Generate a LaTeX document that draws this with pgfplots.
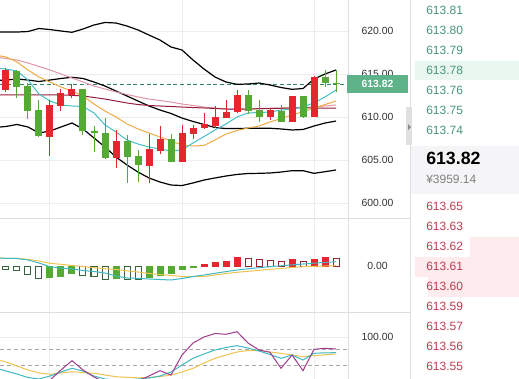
\documentclass[border=0pt]{standalone}
\usepackage{pgfplots}
\pgfplotsset{compat=1.18}
\usepackage{pgfplotstable}
\usepackage{fontspec}
\setmainfont{Liberation Sans}

\definecolor{cred}{RGB}{228,38,46}
\definecolor{cgreen}{RGB}{84,170,50}
\definecolor{hgreen}{RGB}{55,100,60}
\definecolor{hred}{RGB}{150,35,45}
\definecolor{ma5}{RGB}{70,190,200}
\definecolor{ma10}{RGB}{240,170,70}
\definecolor{ma20}{RGB}{225,150,165}
\definecolor{ma30}{RGB}{150,30,60}
\definecolor{gridc}{RGB}{236,236,238}
\definecolor{sepc}{RGB}{222,222,226}
\definecolor{labc}{RGB}{50,50,50}
\definecolor{lastc}{RGB}{94,178,138}
\definecolor{dashc}{RGB}{50,130,115}
\definecolor{askc}{RGB}{70,150,120}
\definecolor{bidc}{RGB}{190,60,80}
\definecolor{kc}{RGB}{60,185,195}
\definecolor{dc}{RGB}{240,195,80}
\definecolor{jc}{RGB}{160,60,140}
\definecolor{askbg}{RGB}{234,246,240}
\definecolor{midbg}{RGB}{245,245,247}
\definecolor{bidbg}{RGB}{253,235,238}

% candles: index, open, high, low, close
\pgfplotstableread{
i o h l c
0 613.14 615.70 612.90 615.47
4 607.70 612.00 605.50 611.40
5 611.30 613.30 610.70 612.75
6 612.60 613.80 612.20 613.30
10 605.20 608.50 604.10 607.20
13 604.30 608.00 602.30 606.30
14 606.00 608.90 605.70 607.40
16 604.80 609.10 604.75 608.10
17 608.00 609.10 607.40 608.75
18 608.70 610.50 608.60 609.20
19 609.00 611.30 608.70 610.00
20 609.90 612.00 609.85 610.60
21 610.60 613.10 610.50 612.60
24 610.00 611.00 609.65 610.80
26 609.45 612.50 609.40 612.40
28 610.00 614.80 609.95 614.70
}\upc
\pgfplotstableread{
i o h l c
1 615.35 615.50 612.20 613.52
2 613.60 614.00 609.80 610.70
3 610.80 612.00 607.70 607.85
7 613.26 613.30 607.90 608.40
8 608.40 609.00 605.90 608.10
9 608.20 609.90 605.15 605.20
11 607.20 607.90 602.30 605.40
12 605.50 606.20 602.40 604.40
15 607.40 608.00 604.75 604.80
22 612.60 613.10 610.35 610.70
23 610.80 612.00 609.45 610.00
25 610.70 611.40 609.40 609.45
27 612.40 612.50 609.85 610.00
29 614.70 615.50 613.50 614.00
30 614.00 615.50 612.94 613.82
}\downc
% Bollinger (up, mid, lo) and moving averages
\pgfplotstableread{
i up mid lo ma5 ma10 ma20 ma30
-1 619.88 614.24 608.78 615.70 617.21 616.98 612.56
0 619.88 614.30 608.90 615.58 616.98 616.80 612.56
1 619.88 614.42 609.13 615.35 616.40 616.63 612.56
2 619.94 614.30 608.84 614.30 615.47 616.28 612.56
3 620.29 614.13 608.14 612.67 614.65 615.87 612.56
4 620.17 614.30 608.37 611.86 614.07 615.47 612.56
5 620.00 614.48 608.84 611.40 613.49 615.00 612.56
6 619.85 614.62 609.30 611.28 613.02 614.54 612.52
7 620.23 614.48 608.61 611.22 612.44 614.07 612.44
8 620.70 614.07 607.56 610.47 611.51 613.60 612.27
9 620.99 613.60 606.51 609.07 610.70 613.26 612.09
10 620.93 613.02 605.35 608.26 610.00 612.91 611.86
11 620.58 612.44 604.42 607.33 609.19 612.62 611.63
12 620.12 611.86 603.60 606.86 608.61 612.33 611.45
13 619.53 611.28 602.91 606.51 608.14 612.09 611.34
14 618.95 610.81 602.44 606.28 607.67 611.92 611.28
15 618.14 610.41 602.09 606.05 607.21 611.74 611.22
16 617.79 609.88 602.03 606.16 606.74 611.51 611.16
17 616.63 609.48 602.33 606.98 606.63 611.34 611.10
18 615.58 609.13 602.67 607.73 606.69 611.16 611.05
19 614.65 608.78 602.91 608.49 607.33 611.05 610.99
20 614.07 608.66 603.14 609.19 608.02 610.93 610.93
21 613.80 608.66 603.32 610.00 608.43 610.90 610.90
22 613.84 608.69 603.43 610.47 608.72 610.93 610.93
23 613.95 608.69 603.45 610.52 608.95 610.97 610.97
24 613.72 608.69 603.49 610.58 609.42 611.01 610.99
25 613.43 608.61 603.60 610.81 609.83 611.05 611.01
26 613.22 608.49 603.76 610.93 610.23 611.08 611.05
27 613.31 608.55 603.76 611.20 610.62 611.13 611.07
28 614.42 608.95 603.45 611.63 611.05 611.16 611.05
29 615.00 609.30 603.64 612.33 611.45 611.28 611.02
30 615.47 609.53 603.84 613.14 611.86 611.40 611.02
}\lines
% MACD lines
\pgfplotstableread{
i dif dea
-1 0.160 0.160
0 0.154 0.154
1 0.150 0.154
2 0.120 0.134
3 0.060 0.100
4 -0.014 0.054
5 -0.040 0.034
6 -0.060 0.010
7 -0.090 -0.010
8 -0.110 -0.034
9 -0.140 -0.054
10 -0.200 -0.070
11 -0.240 -0.096
12 -0.246 -0.120
13 -0.260 -0.150
14 -0.270 -0.170
15 -0.280 -0.190
16 -0.250 -0.210
17 -0.210 -0.214
18 -0.180 -0.210
19 -0.146 -0.180
20 -0.112 -0.150
21 -0.080 -0.126
22 -0.056 -0.106
23 -0.034 -0.086
24 -0.014 -0.066
25 0.004 -0.048
26 0.022 -0.030
27 0.040 -0.014
28 0.056 -0.006
29 0.072 0.000
30 0.086 0.006
}\macd
% KDJ
\pgfplotstableread{
i k d j
-1 22.5 45.0 -20
0 15.0 37.5 -25
1 7.5 27.5 -25
2 -1.25 17.5 -25
3 -5.0 10.0 -20
4 2.5 6.75 -7.5
5 12.5 10.0 17.5
6 21.75 13.25 40.75
7 15.0 11.25 17.5
8 2.5 9.25 0
9 -5.0 5.0 -12.5
10 -7.5 0.75 -20
11 -7.5 -0.75 -17.5
12 -5.0 -2.0 -10
13 -2.5 -1.25 2.5
14 2.5 1.25 15.75
15 12.5 5.0 5
16 30.0 12.5 55
17 46.75 21.75 85
18 57.5 35.0 100
19 67.5 46.75 108.75
20 73.75 55.0 106.75
21 78.25 62.5 113.25
22 72.5 66.25 85
23 65.0 66.25 67.5
24 56.25 62.5 61.75
25 46.75 59.25 21.75
26 55.0 55.0 55
27 42.5 50.75 15.75
28 59.25 53.25 69.25
29 60.5 55.5 71.75
30 60.75 57.5 70
}\kdj

\pgfplotsset{
  panel/.style={
    scale only axis, width=261pt,
    xmin=-0.545, xmax=31.09,
    axis line style={draw=none},
    xtick={4,16,28}, xticklabels={,,},
    major tick length=0pt, tick style={draw=none},
    grid=major, grid style={color=gridc, line width=0.75pt},
    yticklabel pos=right,
    yticklabel style={anchor=center, xshift=22.1pt, font=\fontsize{7.8}{9}\selectfont, text=labc},
    scaled ticks=false,
    /pgf/number format/fixed,
    /pgf/number format/fixed zerofill,
    /pgf/number format/precision=2,
    /pgf/number format/assume math mode=true,
  },
  candlewick/.style={draw=none, forget plot, error bars/.cd, y dir=both, y explicit, error mark=none,
    error bar style={draw=#1, line width=0.75pt, solid}},
  candlebody/.style={draw=none, forget plot, error bars/.cd, y dir=both, y explicit, error mark=none,
    error bar style={draw=#1, line width=5.25pt, solid}},
}

\begin{document}
\begin{tikzpicture}[x=0.75pt,y=-0.75pt]
\fill[white] (0,0) rectangle (519,379);

% ---------- price panel ----------
\begin{axis}[panel, at={(0pt,0pt)}, anchor=north west, height=163.5pt,
  ymin=598.256, ymax=623.605, ytick={600,605,610,615,620},
  extra y ticks={613.82}, extra y tick labels={},
  extra y tick style={grid style={color=dashc, dash pattern=on 3pt off 2pt, line width=0.75pt}}]
\addplot[black, line width=0.9pt] table[x=i, y=up] {\lines};
\addplot[black, line width=0.9pt] table[x=i, y=mid] {\lines};
\addplot[black, line width=0.9pt] table[x=i, y=lo] {\lines};
\addplot[ma20, line width=0.75pt] table[x=i, y=ma20] {\lines};
\addplot[ma30, line width=0.75pt] table[x=i, y=ma30] {\lines};
\addplot[ma10, line width=0.75pt] table[x=i, y=ma10] {\lines};
\addplot[ma5, line width=0.75pt] table[x=i, y=ma5] {\lines};
\addplot[candlewick=cred] table[x=i, y expr={(\thisrow{h}+\thisrow{l})/2}, y error expr={(\thisrow{h}-\thisrow{l})/2}] {\upc};
\addplot[candlebody=cred] table[x=i, y expr={(\thisrow{o}+\thisrow{c})/2}, y error expr={abs(\thisrow{c}-\thisrow{o})/2}] {\upc};
\addplot[candlewick=cgreen] table[x=i, y expr={(\thisrow{h}+\thisrow{l})/2}, y error expr={(\thisrow{h}-\thisrow{l})/2}] {\downc};
\addplot[candlebody=cgreen] table[x=i, y expr={(\thisrow{o}+\thisrow{c})/2}, y error expr={abs(\thisrow{c}-\thisrow{o})/2}] {\downc};
\end{axis}

% ---------- MACD panel ----------
\begin{axis}[panel, at={(0pt,-163.5pt)}, anchor=north west, height=70.5pt,
  ymin=-0.92, ymax=0.96, ytick={0}, grid=none, xmajorgrids=true]
\addplot[ybar, bar width=4.5pt, bar shift=0pt, fill=white, draw=hgreen, line width=0.75pt]
  coordinates {(0,-0.06) (1,-0.094) (2,-0.16) (3,-0.246) (7,-0.194) (8,-0.20) (9,-0.266) (11,-0.266) (12,-0.272)};
\addplot[ybar, bar width=4.5pt, bar shift=0pt, fill=cgreen, draw=cgreen, line width=0.75pt]
  coordinates {(4,-0.234) (5,-0.20) (6,-0.154) (10,-0.246) (13,-0.234) (14,-0.18) (15,-0.15) (16,-0.07) (17,-0.026)};
\addplot[ybar, bar width=4.5pt, bar shift=0pt, fill=cred, draw=cred, line width=0.75pt]
  coordinates {(18,0.03) (19,0.07) (20,0.10) (21,0.166) (26,0.126) (28,0.134) (29,0.166)};
\addplot[ybar, bar width=4.5pt, bar shift=0pt, fill=white, draw=hred, line width=0.75pt]
  coordinates {(22,0.146) (23,0.134) (24,0.114) (25,0.10) (27,0.086) (30,0.16)};
\addplot[dc, line width=0.75pt] table[x=i, y=dea] {\macd};
\addplot[kc, line width=0.75pt] table[x=i, y=dif] {\macd};
\end{axis}

% ---------- KDJ panel ----------
\begin{axis}[panel, at={(0pt,-234pt)}, anchor=north west, height=50.25pt,
  ymin=-5, ymax=162.5, ytick={100},
  extra y ticks={30,70}, extra y tick labels={},
  extra y tick style={grid style={color=black!35, dash pattern=on 3pt off 2.25pt, line width=0.75pt}}]
\addplot[dc, line width=0.75pt] table[x=i, y=d] {\kdj};
\addplot[kc, line width=0.75pt] table[x=i, y=k] {\kdj};
\addplot[jc, line width=0.75pt] table[x=i, y=j] {\kdj};
\end{axis}

% separators
\draw[sepc, line width=0.75pt] (348.5,0) -- (348.5,379);
\draw[sepc, line width=0.75pt] (0,218) -- (410,218);
\draw[sepc, line width=0.75pt] (0,312) -- (410,312);
\draw[sepc, line width=0.75pt] (410.5,0) -- (410.5,379);
\fill[black!12] (406,107) rectangle (412,145);
\fill[black!45] (408,124) -- (411,127) -- (408,130) -- cycle;

% last price tag
\fill[lastc] (347,75) rectangle (408,93);
\node[inner sep=0pt, text=white, font=\fontsize{7.8}{9}\selectfont\bfseries] at (377.5,84) {613.82};

% ---------- order book ----------
\fill[askbg] (415,61) rectangle (519,80);
\fill[midbg] (411,146) rectangle (519,194);
\fill[bidbg] (470,236.5) rectangle (519,256.5);
\fill[bidbg] (415,256.5) rectangle (519,276.5);
\fill[bidbg] (428,276.5) rectangle (519,296.5);

\begin{scope}[every node/.style={anchor=west, inner sep=0pt, font=\fontsize{9}{10}\selectfont}]
\node[text=askc] at (426,10.3) {613.81};
\node[text=askc] at (426,30.5) {613.80};
\node[text=askc] at (426,50.5) {613.79};
\node[text=askc] at (426,70.5) {613.78};
\node[text=askc] at (426,90.5) {613.76};
\node[text=askc] at (426,110.5) {613.75};
\node[text=askc] at (426,130.5) {613.74};
\node[text=black, font=\fontsize{13.3}{15}\selectfont\bfseries] at (426,158.5) {613.82};
\node[text=black!50] at (426,179.5) {¥3959.14};
\node[text=bidc] at (426,206.3) {613.65};
\node[text=bidc] at (426,226.3) {613.63};
\node[text=bidc] at (426,246.5) {613.62};
\node[text=bidc] at (426,266.5) {613.61};
\node[text=bidc] at (426,286.5) {613.60};
\node[text=bidc] at (426,306.5) {613.59};
\node[text=bidc] at (426,326.5) {613.57};
\node[text=bidc] at (426,346.5) {613.56};
\node[text=bidc] at (426,366.5) {613.55};
\end{scope}

\pgfresetboundingbox
\useasboundingbox (0,0) rectangle (519,379);
\end{tikzpicture}
\end{document}
